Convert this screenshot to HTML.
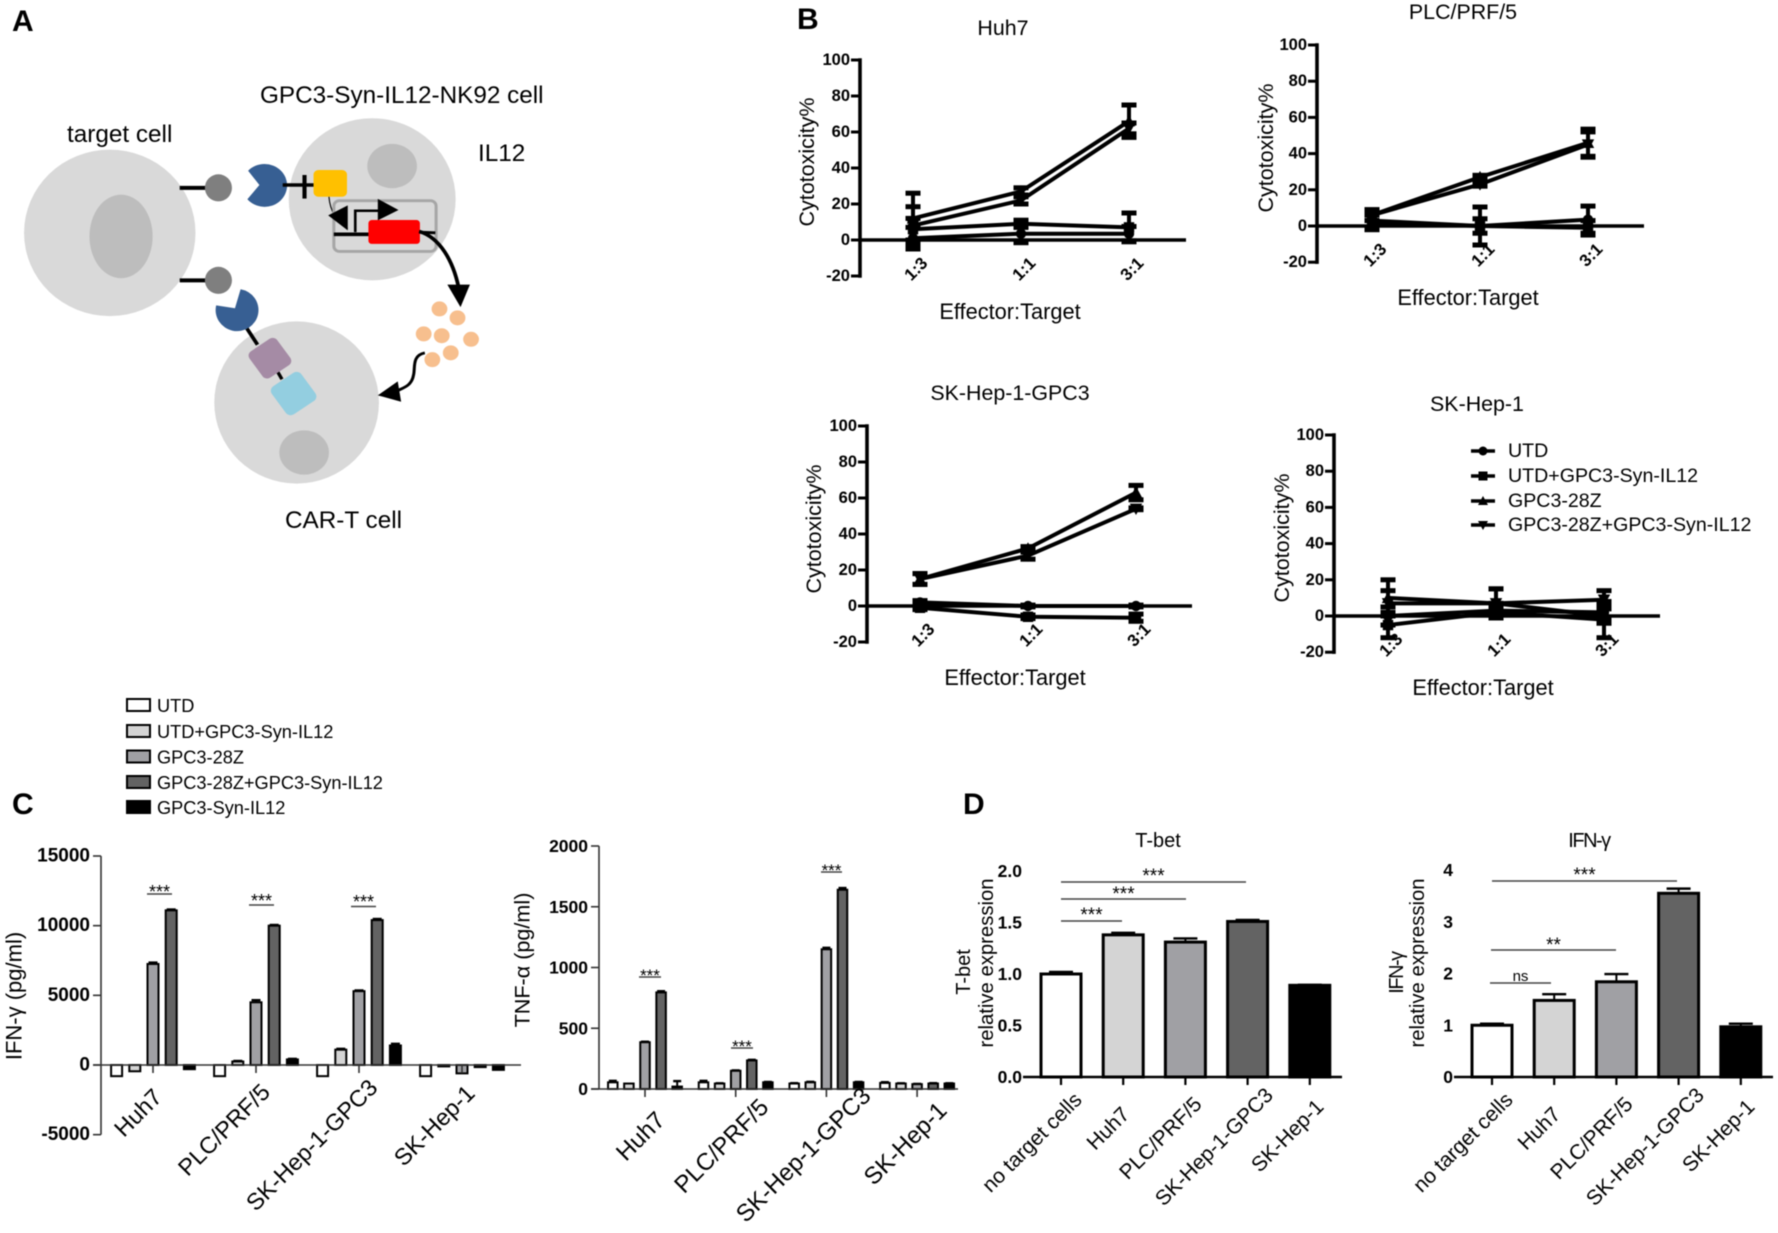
<!DOCTYPE html>
<html lang="en">
<head>
<meta charset="utf-8">
<title>GPC3-Syn-IL12 figure</title>
<style>
html,body{margin:0;padding:0;background:#fff;}
svg{display:block;filter:blur(0.65px);font-family:"Liberation Sans",Arial,sans-serif;fill:#000;}
</style>
</head>
<body>
<svg id="fig" xmlns="http://www.w3.org/2000/svg" width="1778" height="1233" viewBox="0 0 1778 1233">
  <rect width="1778" height="1233" fill="#fff"/>
  <text x="12" y="31" font-size="30" font-weight="bold">A</text>
  <text x="797" y="29" font-size="30" font-weight="bold">B</text>
  <text x="12" y="814" font-size="30" font-weight="bold">C</text>
  <text x="963" y="814" font-size="30" font-weight="bold">D</text>

  <g transform="scale(0.37594,0.35714)">
    <ellipse cx="292" cy="652" rx="228" ry="233" fill="#d9d9d9"/>
    <ellipse cx="322" cy="662" rx="84" ry="117" fill="#bdbdbd"/>
    <ellipse cx="990" cy="558" rx="222" ry="227" fill="#d9d9d9"/>
    <ellipse cx="1043" cy="465" rx="66" ry="62" fill="#bdbdbd"/>
    <ellipse cx="789" cy="1127" rx="219" ry="227" fill="#d9d9d9"/>
    <ellipse cx="809" cy="1267" rx="66" ry="62" fill="#bdbdbd"/>
    <line x1="478" y1="526" x2="550" y2="526" stroke="#000" stroke-width="11"/>
    <ellipse cx="581" cy="526" rx="36" ry="38" fill="#7f7f7f"/>
    <line x1="478" y1="785" x2="550" y2="785" stroke="#000" stroke-width="11"/>
    <ellipse cx="581" cy="785" rx="36" ry="38" fill="#7f7f7f"/>
    <path d="M690 518 L660 478 A60 60 0 1 1 658 558 Z" fill="#375f93"/>
    <line x1="752" y1="518" x2="838" y2="518" stroke="#000" stroke-width="10"/>
    <line x1="810" y1="490" x2="810" y2="556" stroke="#000" stroke-width="11"/>
    <rect x="834" y="476" width="89" height="75" rx="13" fill="#ffc000"/>
    <path d="M875 551 C878 590 895 620 925 640" fill="none" stroke="#000" stroke-width="3"/>
    <rect x="888" y="562" width="272" height="142" rx="15" fill="none" stroke="#a6a6a6" stroke-width="8"/>
    <polygon points="873,603 925,575 925,645" fill="#000"/>
    <path d="M945 650 L945 590 L1010 590" fill="none" stroke="#000" stroke-width="7"/>
    <polygon points="1005,557 1060,588 1005,617" fill="#000"/>
    <line x1="888" y1="656" x2="985" y2="656" stroke="#000" stroke-width="10"/>
    <rect x="980" y="616" width="137" height="67" rx="9" fill="#ff0000"/>
    <line x1="1115" y1="650" x2="1158" y2="652" stroke="#000" stroke-width="8"/>
    <path d="M1115 648 C1170 665 1205 730 1220 805" fill="none" stroke="#000" stroke-width="10"/>
    <polygon points="1190,797 1250,797 1225,860" fill="#000"/>
    <g fill="#f7bf8e">
      <circle cx="1169" cy="865" r="21"/>
      <circle cx="1217" cy="890" r="21"/>
      <circle cx="1127" cy="935" r="21"/>
      <circle cx="1175" cy="940" r="21"/>
      <circle cx="1253" cy="950" r="21"/>
      <circle cx="1199" cy="988" r="21"/>
      <circle cx="1150" cy="1007" r="21"/>
    </g>
    <path d="M1130 988 C1095 995 1105 1030 1100 1050 C1095 1080 1075 1085 1055 1095" fill="none" stroke="#000" stroke-width="8"/>
    <polygon points="1005,1107 1058,1068 1067,1125" fill="#000"/>
    <path d="M625 863 L640 810 A57 59 0 1 1 575 855 Z" fill="#375f93"/>
    <line x1="657" y1="920" x2="685" y2="965" stroke="#000" stroke-width="10"/>
    <line x1="738" y1="1040" x2="750" y2="1062" stroke="#000" stroke-width="9"/>
    <rect x="673" y="958" width="90" height="90" rx="15" fill="#a58ba5" transform="rotate(-35 718 1003)"/>
    <rect x="733" y="1054" width="96" height="96" rx="16" fill="#93cee0" transform="rotate(-35 781 1102)"/>
  </g>
  <text x="260" y="103" font-size="24.3">GPC3-Syn-IL12-NK92 cell</text>
  <text x="67" y="142" font-size="24.3">target cell</text>
  <text x="478" y="161" font-size="24.3">IL12</text>
  <text x="285" y="528" font-size="24.3">CAR-T cell</text>

  <g font-size="19.6">
    <g>
      <line x1="1471" y1="451" x2="1495" y2="451" stroke="#000" stroke-width="3.5"/>
      <circle cx="1483" cy="451" r="4.5"/>
      <text x="1508" y="451" dominant-baseline="central">UTD</text>
    </g>
    <g>
      <line x1="1471" y1="476" x2="1495" y2="476" stroke="#000" stroke-width="3.5"/>
      <rect x="1478.5" y="471.5" width="9" height="9"/>
      <text x="1508" y="476" dominant-baseline="central">UTD+GPC3-Syn-IL12</text>
    </g>
    <g>
      <line x1="1471" y1="501" x2="1495" y2="501" stroke="#000" stroke-width="3.5"/>
      <polygon points="1483,496 1488,505 1478,505"/>
      <text x="1508" y="501" dominant-baseline="central">GPC3-28Z</text>
    </g>
    <g>
      <line x1="1471" y1="525" x2="1495" y2="525" stroke="#000" stroke-width="3.5"/>
      <polygon points="1483,530 1488,521 1478,521"/>
      <text x="1508" y="525" dominant-baseline="central">GPC3-28Z+GPC3-Syn-IL12</text>
    </g>
  </g>

  <g font-size="18.2" stroke-linejoin="miter">
    <rect x="127" y="699" width="23" height="12" fill="#fff" stroke="#000" stroke-width="2"/>
    <text x="157" y="706" dominant-baseline="central">UTD</text>
    <rect x="127" y="725" width="23" height="12" fill="#d4d4d4" stroke="#000" stroke-width="2"/>
    <text x="157" y="732" dominant-baseline="central">UTD+GPC3-Syn-IL12</text>
    <rect x="127" y="750.5" width="23" height="12" fill="#a0a0a4" stroke="#000" stroke-width="2"/>
    <text x="157" y="757.5" dominant-baseline="central">GPC3-28Z</text>
    <rect x="127" y="776" width="23" height="12" fill="#636363" stroke="#000" stroke-width="2"/>
    <text x="157" y="783" dominant-baseline="central">GPC3-28Z+GPC3-Syn-IL12</text>
    <rect x="127" y="801" width="23" height="12" fill="#000" stroke="#000" stroke-width="2"/>
    <text x="157" y="808" dominant-baseline="central">GPC3-Syn-IL12</text>
  </g>
</svg>

<script>
// ---- Panel B data ----
const ratioLabels = ['1:3', '1:1', '3:1'];
const percentTicks = [100, 80, 60, 40, 20, 0, -20];

const huh7Utd = [1, 3.5, 3.5];
const huh7UtdErr = [6, 5, 4];
const huh7UtdSyn = [6, 9, 7];
const huh7UtdSynErr = [6, 2, 8];
const huh7Car = [12, 27, 66];
const huh7CarErr = [14, 2, 9];
const huh7CarSyn = [8, 22, 62];
const huh7CarSynErr = [10.5, 2, 3];

const plcUtd = [3, 0, 3.5];
const plcUtdErr = [5, 10.5, 7.5];
const plcUtdSyn = [2, 0, -1];
const plcUtdSynErr = [4, 4, 4];
const plcCar = [6, 27, 46];
const plcCarErr = [3, 1, 7.5];
const plcCarSyn = [6, 23, 45];
const plcCarSynErr = [3, 1, 7];

const gpc3Utd = [2, 0, 0];
const gpc3UtdErr = [1, 0.5, 0.5];
const gpc3UtdSyn = [-1, -6, -6.5];
const gpc3UtdSynErr = [1, 1, 2];
const gpc3Car = [15, 32, 63];
const gpc3CarErr = [3, 1, 4];
const gpc3CarSyn = [15, 28, 54];
const gpc3CarSynErr = [3, 2, 0.5];

const hep1Utd = [0, 3, 2];
const hep1UtdErr = [5, 4, 4];
const hep1UtdSyn = [-5, 2, -2];
const hep1UtdSynErr = [7, 3, 10];
const hep1Car = [10, 7, 0];
const hep1CarErr = [10, 8, 4];
const hep1CarSyn = [7, 7, 9];
const hep1CarSynErr = [7, 8, 5];

// ---- Panel C data ----
const cytokineCategories = ['Huh7', 'PLC/PRF/5', 'SK-Hep-1-GPC3', 'SK-Hep-1'];
const ifnTicks = [15000, 10000, 5000, 0, -5000];
const ifnHuh7 = [-800, -450, 7250, 11100, -300];
const ifnHuh7Err = [0, 0, 100, 60, 0];
const ifnPlc = [-800, 250, 4500, 10000, 400];
const ifnPlcErr = [0, 40, 150, 50, 40];
const ifnGpc3 = [-800, 1100, 5300, 10400, 1400];
const ifnGpc3Err = [0, 60, 50, 80, 120];
const ifnHep1 = [-800, -100, -600, -150, -350];
const ifnHep1Err = [0, 0, 0, 0, 0];

const tnfTicks = [2000, 1500, 1000, 500, 0];
const tnfHuh7 = [55, 45, 385, 795, 20];
const tnfHuh7Err = [12, 0, 4, 10, 45];
const tnfPlc = [55, 45, 150, 235, 55];
const tnfPlcErr = [12, 2, 3, 5, 3];
const tnfGpc3 = [45, 55, 1150, 1640, 55];
const tnfGpc3Err = [3, 4, 12, 14, 3];
const tnfHep1 = [50, 45, 40, 45, 45];
const tnfHep1Err = [6, 2, 2, 3, 2];

// ---- Panel D data ----
const expressionCategories = ['no target cells', 'Huh7', 'PLC/PRF/5', 'SK-Hep-1-GPC3', 'SK-Hep-1'];
const tbetTicks = ['2.0', '1.5', '1.0', '0.5', '0.0'];
const tbetValues = [1.0, 1.38, 1.31, 1.51, 0.89];
const tbetErrors = [0.02, 0.02, 0.035, 0.015, 0.005];
const ifnRelTicks = ['4', '3', '2', '1', '0'];
const ifnRelValues = [1.0, 1.48, 1.84, 3.55, 0.97];
const ifnRelErrors = [0.03, 0.12, 0.15, 0.09, 0.06];

const barFills = ['#ffffff', '#d4d4d4', '#a0a0a4', '#636363', '#000000'];

const SVGNS = 'http://www.w3.org/2000/svg';
const fig = document.getElementById('fig');

function mk(tag, attrs, parent, txt) {
  const el = document.createElementNS(SVGNS, tag);
  for (const k in attrs) el.setAttribute(k, attrs[k]);
  if (txt !== undefined) el.textContent = txt;
  parent.appendChild(el);
  return el;
}

function rotatedTitle(parent, x, y, size, txt, spacing) {
  const attrs = { x: x, y: y, 'font-size': size, 'text-anchor': 'middle', 'dominant-baseline': 'central', transform: 'rotate(-90 ' + x + ' ' + y + ')' };
  if (spacing) attrs['letter-spacing'] = spacing;
  const el = mk('text', attrs, parent, txt);
  
  
  return el;
}

function marker(parent, kind, cx, cy) {
  const r = 5.2;
  let el;
  if (kind === 'circle') {
    el = mk('circle', { cx: cx, cy: cy, r: r }, parent);
  } else if (kind === 'square') {
    el = mk('rect', { x: cx - r, y: cy - r, width: 2 * r, height: 2 * r }, parent);
  } else if (kind === 'up') {
    el = mk('polygon', { points: cx + ',' + (cy - r - 1) + ' ' + (cx + r + 1) + ',' + (cy + r) + ' ' + (cx - r - 1) + ',' + (cy + r) }, parent);
  } else {
    el = mk('polygon', { points: cx + ',' + (cy + r + 1) + ' ' + (cx + r + 1) + ',' + (cy - r) + ' ' + (cx - r - 1) + ',' + (cy - r) }, parent);
  }
  
  
}

function drawLineChart(f, series) {
  const g = mk('g', {}, fig);
  
  
  const yPos = v => f.zero - v * (f.zero - f.top) / 100;
  const xPos = i => f.x0 + i * f.dx;

  const title = mk('text', { x: f.titleX, y: f.titleY, 'font-size': 21.4, 'text-anchor': 'middle' }, g, f.title);
  
  

  const xTitle = mk('text', { x: f.xTitleX, y: f.xTitleY, 'font-size': 21.8, 'text-anchor': 'middle' }, g, 'Effector:Target');
  
  

  rotatedTitle(g, f.yTitleX, f.yTitleY, 21.5, 'Cytotoxicity%');

  const yAxis = mk('line', { x1: f.axis, x2: f.axis, y1: yPos(100) - 1.7, y2: yPos(-20) + 1.7, stroke: '#000', 'stroke-width': 3.6 }, g);
  
  

  const xAxis = mk('line', { x1: f.axis, x2: f.end, y1: f.zero, y2: f.zero, stroke: '#000', 'stroke-width': 3.6 }, g);
  
  

  percentTicks.forEach(t => {
    const tick = mk('line', { x1: f.axis - 9, x2: f.axis, y1: yPos(t), y2: yPos(t), stroke: '#000', 'stroke-width': 3 }, g);
    
    
    const lab = mk('text', { x: f.axis - 10, y: yPos(t), 'font-size': 16.5, 'font-weight': 'bold', 'text-anchor': 'end', 'dominant-baseline': 'central' }, g, String(t));
    
    
  });

  ratioLabels.forEach((t, i) => {
    const cx = xPos(i) + 3, cy = f.zero + 29;
    const lab = mk('text', { x: cx, y: cy, 'font-size': 17, 'font-weight': 'bold', 'text-anchor': 'middle', 'dominant-baseline': 'central', transform: 'rotate(-45 ' + cx + ' ' + cy + ')' }, g, t);
    
    
  });

  series.forEach(s => {
    const sg = mk('g', {}, g);
    
    
    s.values.forEach((v, i) => {
      const x = xPos(i), hi = yPos(v + s.errs[i]), lo = yPos(v - s.errs[i]);
      const stem = mk('line', { x1: x, x2: x, y1: hi, y2: lo, stroke: '#000', 'stroke-width': 4 }, sg);
      
      
      [hi, lo].forEach(y => {
        const cap = mk('line', { x1: x - 7.5, x2: x + 7.5, y1: y, y2: y, stroke: '#000', 'stroke-width': 5 }, sg);
        
        
      });
    });
    const pts = s.values.map((v, i) => xPos(i) + ',' + yPos(v)).join(' ');
    const line = mk('polyline', { points: pts, fill: 'none', stroke: '#000', 'stroke-width': 4 }, sg);
    
    
    s.values.forEach((v, i) => marker(sg, s.marker, xPos(i), yPos(v)));
  });
}

function drawBar(parent, cx, w, sw, fill, y0, y1, errY, capW) {
  const top = Math.min(y0, y1), h = Math.abs(y1 - y0);
  if (errY !== null) {
    const stem = mk('line', { x1: cx, x2: cx, y1: y1, y2: errY, stroke: '#000', 'stroke-width': 2 }, parent);
    
    
    const cap = mk('line', { x1: cx - capW / 2, x2: cx + capW / 2, y1: errY, y2: errY, stroke: '#000', 'stroke-width': 2.4 }, parent);
    
    
  }
  const bar = mk('rect', { x: cx - w / 2 + sw / 2, y: top, width: w - sw, height: h, fill: fill, stroke: '#000', 'stroke-width': sw }, parent);
  
  
}

function placeCategoryLabel(parent, txt, gx, zero, f) {
  const el = mk('text', { 'font-size': f.catSize, 'text-anchor': 'end' }, parent, txt);
  
  
  const len = el.getComputedTextLength();
  const ax = gx + f.catOx + f.catK * len;
  const ay = zero + f.catOy - f.catK * len;
  el.setAttribute('x', ax);
  el.setAttribute('y', ay);
  el.setAttribute('transform', 'rotate(-45 ' + ax + ' ' + ay + ')');
}

function drawValueAxis(g, f, ticks, yPos) {
  const bottomV = Math.min.apply(null, ticks.map(Number));
  const topV = Math.max.apply(null, ticks.map(Number));
  const yAxis = mk('line', { x1: f.axis, x2: f.axis, y1: yPos(topV), y2: yPos(bottomV), stroke: f.axisColor, 'stroke-width': f.axisW }, g);
  
  
  ticks.forEach(t => {
    const y = yPos(Number(t));
    const tick = mk('line', { x1: f.axis - 8, x2: f.axis, y1: y, y2: y, stroke: f.axisColor, 'stroke-width': f.axisW }, g);
    
    
    const lab = mk('text', { x: f.axis - f.tickGap, y: y, 'font-size': f.tickSize, 'font-weight': 'bold', 'text-anchor': 'end', 'dominant-baseline': 'central' }, g, String(t));
    
    
  });
}

function drawGroupedChart(f, ticks, categories, groups, groupErrs) {
  const g = mk('g', {}, fig);
  
  
  const top = Math.max.apply(null, ticks);
  const yPos = v => f.zero - v * (f.zero - f.top) / top;
  groups.forEach((vals, gi) => {
    const gx = f.g0 + gi * f.gStep;
    const bg = mk('g', {}, g);
    
    
    vals.forEach((v, j) => {
      const cx = gx + (j - 2) * f.bStep;
      const e = groupErrs[gi][j];
      const errY = e > 0 ? yPos(v + (v < 0 ? -e : e)) : null;
      drawBar(bg, cx, f.barW, 2, barFills[j], yPos(0), yPos(v), errY, f.capW);
    });
  });
  const xAxis = mk('line', { x1: f.axis - 8, x2: f.end, y1: f.zero, y2: f.zero, stroke: f.axisColor, 'stroke-width': f.axisW }, g);
  
  
  drawValueAxis(g, f, ticks, yPos);
  categories.forEach((c, i) => {
    const gx = f.g0 + i * f.gStep;
    const tick = mk('line', { x1: gx, x2: gx, y1: f.zero, y2: f.zero + 8, stroke: f.axisColor, 'stroke-width': f.axisW }, g);
    
    
    placeCategoryLabel(g, c, gx, f.zero, f);
  });
  rotatedTitle(g, f.yTitleX, f.yTitleY, f.yTitleSize, f.yTitle);
  return g;
}

function drawExpressionChart(f, ticks, categories, values, errors) {
  const g = mk('g', {}, fig);
  
  
  const tickNums = ticks.map(Number);
  const top = Math.max.apply(null, tickNums);
  const yPos = v => f.zero - v * (f.zero - f.top) / top;
  values.forEach((v, i) => {
    const cx = f.x0 + i * f.dx;
    drawBar(g, cx, f.barW, 3, barFills[i], yPos(0), yPos(v), yPos(v + errors[i]), f.capW);
  });
  const xAxis = mk('line', { x1: f.axis - 7, x2: f.end, y1: f.zero, y2: f.zero, stroke: '#000', 'stroke-width': f.axisW }, g);
  
  
  drawValueAxis(g, f, ticks, yPos);
  categories.forEach((c, i) => {
    const gx = f.x0 + i * f.dx;
    const tick = mk('line', { x1: gx, x2: gx, y1: f.zero, y2: f.zero + 8, stroke: '#000', 'stroke-width': 2.2 }, g);
    
    
    placeCategoryLabel(g, c, gx, f.zero, f);
  });
  const tAttrs = { x: f.titleX, y: f.titleY, 'font-size': 20, 'text-anchor': 'middle' };
  if (f.tight) tAttrs['letter-spacing'] = '-1.5';
  const title = mk('text', tAttrs, g, f.title);
  
  
  rotatedTitle(g, f.t1X, f.t1Y, 20, f.title, f.tight ? '-1.5' : null);
  rotatedTitle(g, f.t2X, f.t2Y, 20.3, 'relative expression');
  return g;
}

function sig(parent, x1, x2, y, label, labelY, size) {
  const line = mk('line', { x1: x1, x2: x2, y1: y, y2: y, stroke: '#444', 'stroke-width': 1.5 }, parent);
  
  
  const t = mk('text', { x: (x1 + x2) / 2, y: labelY, 'font-size': size, 'text-anchor': 'middle' }, parent, label);
  
  
}

drawLineChart(
  { name: 'chart-huh7-cytotoxicity', title: 'Huh7', titleX: 1003, titleY: 35, xTitleX: 1010, xTitleY: 319, yTitleX: 807, yTitleY: 162, axis: 860, end: 1186, top: 60, zero: 240, x0: 913, dx: 108 },
  [
    { key: 'utd', marker: 'circle', values: huh7Utd, errs: huh7UtdErr },
    { key: 'utd-syn', marker: 'square', values: huh7UtdSyn, errs: huh7UtdSynErr },
    { key: 'car', marker: 'up', values: huh7Car, errs: huh7CarErr },
    { key: 'car-syn', marker: 'down', values: huh7CarSyn, errs: huh7CarSynErr }
  ]);
drawLineChart(
  { name: 'chart-plc-cytotoxicity', title: 'PLC/PRF/5', titleX: 1463, titleY: 19, xTitleX: 1468, xTitleY: 305, yTitleX: 1266, yTitleY: 148, axis: 1317, end: 1644, top: 45, zero: 226, x0: 1372, dx: 108 },
  [
    { key: 'utd', marker: 'circle', values: plcUtd, errs: plcUtdErr },
    { key: 'utd-syn', marker: 'square', values: plcUtdSyn, errs: plcUtdSynErr },
    { key: 'car', marker: 'up', values: plcCar, errs: plcCarErr },
    { key: 'car-syn', marker: 'down', values: plcCarSyn, errs: plcCarSynErr }
  ]);
drawLineChart(
  { name: 'chart-gpc3-cytotoxicity', title: 'SK-Hep-1-GPC3', titleX: 1010, titleY: 400, xTitleX: 1015, xTitleY: 685, yTitleX: 814, yTitleY: 529, axis: 867, end: 1192, top: 426, zero: 606, x0: 920, dx: 108 },
  [
    { key: 'utd', marker: 'circle', values: gpc3Utd, errs: gpc3UtdErr },
    { key: 'utd-syn', marker: 'square', values: gpc3UtdSyn, errs: gpc3UtdSynErr },
    { key: 'car', marker: 'up', values: gpc3Car, errs: gpc3CarErr },
    { key: 'car-syn', marker: 'down', values: gpc3CarSyn, errs: gpc3CarSynErr }
  ]);
drawLineChart(
  { name: 'chart-hep1-cytotoxicity', title: 'SK-Hep-1', titleX: 1477, titleY: 411, xTitleX: 1483, xTitleY: 695, yTitleX: 1282, yTitleY: 538, axis: 1334, end: 1660, top: 435, zero: 616, x0: 1388, dx: 108 },
  [
    { key: 'utd', marker: 'circle', values: hep1Utd, errs: hep1UtdErr },
    { key: 'utd-syn', marker: 'square', values: hep1UtdSyn, errs: hep1UtdSynErr },
    { key: 'car', marker: 'up', values: hep1Car, errs: hep1CarErr },
    { key: 'car-syn', marker: 'down', values: hep1CarSyn, errs: hep1CarSynErr }
  ]);

const ifnChart = drawGroupedChart(
  { name: 'chart-ifn-gamma', axis: 101, end: 521, top: 856, zero: 1065, g0: 153, gStep: 103, bStep: 18.2, barW: 13, capW: 9, axisColor: '#333', axisW: 1.6, tickSize: 19, tickGap: 11, yTitle: 'IFN-γ (pg/ml)', yTitleX: 14, yTitleY: 996, yTitleSize: 22, catSize: 23.4, catK: 0.08, catOx: 6, catOy: 38 },
  ifnTicks, cytokineCategories,
  [ifnHuh7, ifnPlc, ifnGpc3, ifnHep1], [ifnHuh7Err, ifnPlcErr, ifnGpc3Err, ifnHep1Err]);
sig(ifnChart, 147, 172, 894, '***', 898, 18);
sig(ifnChart, 249, 274, 905, '***', 907, 18);
sig(ifnChart, 351, 376, 906.5, '***', 908, 18);

const tnfChart = drawGroupedChart(
  { name: 'chart-tnf-alpha', axis: 599, end: 958, top: 846, zero: 1089, g0: 645, gStep: 90.7, bStep: 16.1, barW: 11.5, capW: 8, axisColor: '#333', axisW: 1.6, tickSize: 17.5, tickGap: 11, yTitle: 'TNF-α (pg/ml)', yTitleX: 522, yTitleY: 960, yTitleSize: 21.6, catSize: 24, catK: 0.2, catOx: 10, catOy: 44 },
  tnfTicks, cytokineCategories,
  [tnfHuh7, tnfPlc, tnfGpc3, tnfHep1], [tnfHuh7Err, tnfPlcErr, tnfGpc3Err, tnfHep1Err]);
sig(tnfChart, 639, 661, 977, '***', 981, 17);
sig(tnfChart, 731, 753, 1048, '***', 1052, 17);
sig(tnfChart, 821, 842, 872, '***', 876, 17);

const tbetChart = drawExpressionChart(
  { name: 'chart-t-bet', title: 'T-bet', titleX: 1158, titleY: 847, axis: 1030, end: 1342, top: 871, zero: 1077, x0: 1061, dx: 62.2, barW: 43, capW: 24, axisW: 2.6, tickSize: 17.5, tickGap: 8, catSize: 21, catK: 0.18, catOx: -1.5, catOy: 47.6, t1X: 964, t1Y: 972, t2X: 987, t2Y: 963 },
  tbetTicks, expressionCategories, tbetValues, tbetErrors);
sig(tbetChart, 1061, 1246, 882, '***', 882, 19);
sig(tbetChart, 1061, 1186, 899, '***', 900, 19);
sig(tbetChart, 1061, 1122, 921, '***', 921, 19);

const ifnRelChart = drawExpressionChart(
  { name: 'chart-ifn-gamma-expression', title: 'IFN-γ', titleX: 1589, titleY: 847, tight: true, axis: 1461, end: 1773, top: 870, zero: 1077, x0: 1492, dx: 62.2, barW: 43, capW: 24, axisW: 2.6, tickSize: 17.5, tickGap: 8, catSize: 21, catK: 0.18, catOx: -1.5, catOy: 47.6, t1X: 1397, t1Y: 973, t2X: 1418, t2Y: 963 },
  ifnRelTicks, expressionCategories, ifnRelValues, ifnRelErrors);
sig(ifnRelChart, 1492, 1677, 881, '***', 881, 19);
sig(ifnRelChart, 1491, 1616, 950, '**', 951, 19);
sig(ifnRelChart, 1490, 1551, 983, 'ns', 981, 15);
</script>
</body>
</html>
